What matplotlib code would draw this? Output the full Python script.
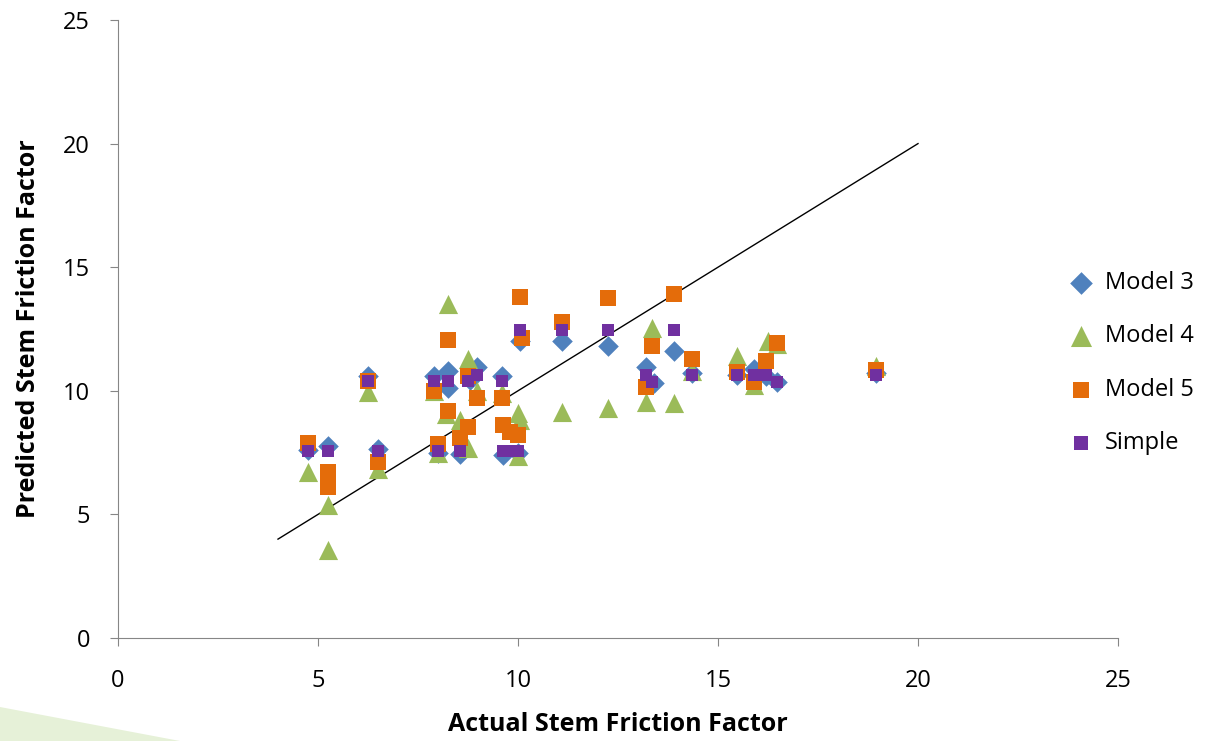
import matplotlib.pyplot as plt
from matplotlib.patches import Polygon

# data
m3_x = [4.75, 5.25, 6.25, 6.5, 7.9, 8.0, 8.25, 8.25, 8.55, 8.8, 8.97, 9.6, 9.63, 10.0,
        10.05, 11.1, 12.25, 13.2, 13.4, 13.9, 14.35, 15.47, 15.9, 16.2, 16.47, 18.95]
m3_y = [7.6, 7.75, 10.6, 7.65, 10.6, 7.5, 10.8, 10.1, 7.45, 10.45, 10.95, 10.6, 7.4, 7.5,
        12.0, 12.0, 11.8, 10.97, 10.3, 11.6, 10.7, 10.65, 10.9, 10.6, 10.35, 10.7]

m4_x = [4.75, 5.25, 5.25, 6.25, 6.5, 7.9, 8.0, 8.25, 8.2, 8.55, 8.75, 8.75, 8.97, 9.6,
        10.0, 10.05, 10.0, 11.1, 12.25, 13.2, 13.35, 13.9, 14.35, 15.47, 15.9, 16.25, 16.47, 18.95]
m4_y = [6.7, 5.4, 3.55, 9.95, 6.85, 10.0, 7.5, 13.5, 9.05, 8.8, 11.3, 7.7, 10.0, 9.9,
        9.1, 8.8, 7.35, 9.15, 9.3, 9.55, 12.55, 9.5, 10.8, 11.4, 10.25, 12.0, 11.9, 11.0]

m5_x = [4.75, 5.25, 5.25, 6.25, 6.5, 7.9, 8.0, 8.25, 8.25, 8.55, 8.75, 8.75, 8.97, 9.6,
        9.63, 9.8, 10.0, 10.05, 10.1, 11.1, 12.25, 13.2, 13.35, 13.9, 14.35, 15.47, 15.9,
        16.2, 16.47, 18.95]
m5_y = [7.9, 6.7, 6.1, 10.4, 7.1, 10.0, 7.85, 12.05, 9.2, 8.1, 8.55, 10.6, 9.7, 9.7,
        8.6, 8.35, 8.2, 13.8, 12.15, 12.8, 13.75, 10.15, 11.8, 13.9, 11.3, 10.76, 10.36,
        11.2, 11.93, 10.85]

simple_x = [4.75, 5.25, 6.25, 6.5, 7.9, 8.0, 8.25, 8.55, 8.75, 8.97, 9.6, 9.63, 9.8, 10.0,
            10.05, 11.1, 12.25, 13.2, 13.35, 13.9, 14.35, 15.47, 15.9, 16.2, 16.47, 18.95]
simple_y = [7.55, 7.55, 10.4, 7.55, 10.4, 7.55, 10.4, 7.55, 10.4, 10.65, 10.4, 7.55, 7.55, 7.55,
            12.45, 12.45, 12.45, 10.65, 10.35, 12.45, 10.65, 10.65, 10.65, 10.65, 10.35, 10.65]

line_x = [4, 20]
line_y = [4, 20]

plt.rcParams['font.family'] = ['Open Sans', 'DejaVu Sans']

fig = plt.figure(figsize=(12.13, 7.41), dpi=100)
ax = fig.add_axes([118 / 1213, 103 / 741, 1000 / 1213, 618 / 741])

# light green corner decoration
fig.patches.append(Polygon([(0, 34 / 741), (0, 0), (180 / 1213, 0)], closed=True,
                           transform=fig.transFigure, facecolor='#E6F1D8', edgecolor='none'))

ax.plot(line_x, line_y, color='black', linewidth=1, zorder=1)
ax.scatter(m3_x, m3_y, marker='D', s=110, color='#4F81BD', label='Model 3', zorder=2, linewidths=0)
ax.scatter(m4_x, m4_y, marker='^', s=190, color='#9BBB59', label='Model 4', zorder=3, linewidths=0)
ax.scatter(m5_x, m5_y, marker='s', s=120, color='#E46C0A', label='Model 5', zorder=4, linewidths=0)
ax.scatter(simple_x, simple_y, marker='s', s=75, color='#7030A0', label='Simple', zorder=5, linewidths=0)

ax.set_xlim(0, 25)
ax.set_ylim(0, 25)
ax.set_xticks([0, 5, 10, 15, 20, 25])
ax.set_yticks([0, 5, 10, 15, 20, 25])
for s in ['top', 'right']:
    ax.spines[s].set_visible(False)
for s in ['left', 'bottom']:
    ax.spines[s].set_color('#868686')
ax.tick_params(direction='out', length=6, color='#868686', labelsize=17)
ax.tick_params(axis='x', pad=16)
ax.tick_params(axis='y', pad=14)

ax.set_xlabel('Actual Stem Friction Factor', fontsize=18, fontweight='bold', labelpad=14)
ax.set_ylabel('Predicted Stem Friction Factor', fontsize=18, fontweight='bold', labelpad=16)

ax.legend(loc='center left', bbox_to_anchor=(0.93, 0.445), frameon=False, fontsize=17,
          handletextpad=0.0, labelspacing=1.25, borderaxespad=0, markerscale=1.1)

fig.savefig('out.png', dpi=100)
